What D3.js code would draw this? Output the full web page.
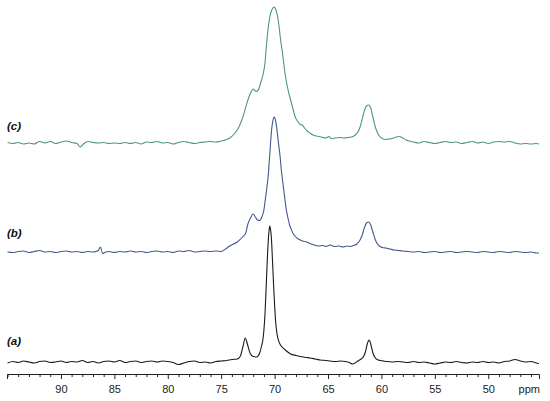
<!DOCTYPE html>
<html><head><meta charset="utf-8">
<script src="https://cdn.jsdelivr.net/npm/d3@7"></script>
<style>body{margin:0;background:#fff}svg{display:block}</style>
</head><body><svg id="chart" width="550" height="401"></svg>
<script>
// ---------- data ----------
const seriesLabels = ["(a)", "(b)", "(c)"];
const majorTicks = [90, 85, 80, 75, 70, 65, 60, 55, 50];
const unitLabel = "ppm";

// [chemical shift (ppm), intensity (a.u.)]
const spectrumA = [
[95.0,-1],[94.5,0.5],[94.0,-0.5],[93.5,1],[93.0,0],[92.5,-1],[92.0,0.5],[91.5,1],[91.0,-0.5],[90.5,0],[90.0,1],[89.5,-0.5],[89.0,0.5],[88.5,0],[88.0,1.5],[87.5,-0.5],[87.0,0.5],[86.5,-1],[86.0,0.5],[85.5,1],[85.0,0],[84.5,1.5],[84.0,-0.5],[83.5,0.5],[83.0,1],[82.5,-0.5],[82.0,0.5],[81.5,1],[81.0,0],[80.5,1],[80.0,0.5],[79.5,-0.5],[79.0,-2.5],[78.5,-1],[78.0,0.5],[77.5,1],[77.0,-0.5],[76.5,0],[76.0,-1],[75.5,0.5],[75.0,1],
[74.5,1.5],[74.0,2.5],[73.5,3],[73.2,6],[72.95,16],[72.75,24],[72.55,18],[72.3,9],[72.0,5.5],[71.7,5],[71.4,9],[71.2,17],[71.1,22],[71.0,32],[70.9,48],[70.8,72],[70.7,98],[70.6,120],[70.5,133],[70.45,136],[70.4,134],[70.3,124],[70.2,102],[70.1,78],[70.0,57],[69.9,40],[69.8,30],[69.7,24],[69.5,18],[69.3,15],[69.0,12],[68.5,8],[68.0,6.5],[67.6,5.5],[67.0,4.5],[66.7,4],[66.2,3],[65.7,2],[65.2,1.5],[64.8,1],[64.3,0.5],[63.8,1],[63.4,0.5],[63.0,-0.5],[62.7,-2],[62.4,-0.5],[62.2,1],[61.9,3],[61.7,5],[61.5,10],[61.3,19],[61.15,22],[61.0,18],[60.8,9],[60.6,4.5],[60.4,2.5],[60.1,1.5],[59.8,1],[59.5,0.5],[59.0,0],[58.5,0.5],[58.0,0],[57.5,-0.5],
[57.0,0.5],[56.5,-0.5],[56.0,0],[55.5,-1],[55.0,-2],[54.5,-1],[54.0,0],[53.5,-0.5],[53.0,0.5],[52.5,-0.5],[52.0,-1],[51.5,0],[51.0,-0.5],[50.5,0.5],[50.0,-0.5],[49.5,0],[49.0,-1],[48.5,0.5],[48.0,1],[47.5,2.5],[47.0,1],[46.5,0],[46.0,0.5],[45.5,-1],[45.25,-1.5]
];

const spectrumB = [
[95.0,0],[94.5,-0.5],[94.0,0.5],[93.5,1],[93.0,-0.5],[92.5,0.5],[92.0,1.5],[91.5,0],[91.0,0.5],[90.5,-0.5],[90.0,0.5],[89.5,1],[89.0,0],[88.5,0.5],[88.0,-0.5],[87.5,0.5],[87.0,0],[86.5,1.5],[86.3,5],[86.1,-1.5],[85.8,0],[85.5,0.5],[85.0,-0.5],[84.5,0.5],[84.0,0],[83.5,1],[83.0,0],[82.5,0.5],[82.0,-0.5],[81.5,0.5],[81.0,1],[80.5,0],[80.0,0.5],[79.5,-0.5],[79.0,1],[78.5,0.5],[78.0,1.5],[77.5,0],[77.0,0.5],[76.5,1],[76.0,0.5],[75.5,1],[75.0,0.5],
[74.6,3],[74.2,6],[73.5,10],[73.0,15],[72.7,19],[72.5,28],[72.3,33],[72.0,38],[71.8,35],[71.6,32],[71.4,31.5],[71.2,35],[71.0,42],[70.9,50],[70.75,62],[70.6,76],[70.45,98],[70.3,120],[70.15,132],[70.05,135],[69.95,133],[69.8,124],[69.65,110],[69.5,97],[69.35,80],[69.2,67],[69.05,54],[68.9,42],[68.75,34],[68.6,27],[68.45,23],[68.3,19],[68.1,16],[67.9,14],[67.6,12],[67.4,11],[67.0,10],[66.7,8.5],[66.3,7],[65.9,6],[65.5,6.5],[65.2,5.5],[64.8,7],[64.4,5.5],[64.0,6],[63.6,5],[63.2,6],[62.9,5.5],[62.6,6.5],[62.3,8],[62.0,12],[61.8,17],[61.6,24],[61.4,29],[61.2,30],[61.0,27],[60.8,20],[60.6,13],[60.4,8.5],[60.2,6],[59.9,4.5],[59.6,4],[59.2,3],[58.8,2],[58.4,1.5],[58.0,1],[57.5,0.5],
[57.0,0],[56.5,0.5],[56.0,-0.5],[55.5,0],[55.0,0.5],[54.5,-0.5],[54.0,0],[53.5,0.5],[53.0,-0.5],[52.5,0],[52.0,0.5],[51.5,0],[51.0,-0.5],[50.5,0.5],[50.0,0],[49.5,-0.5],[49.0,0.5],[48.5,0],[48.0,-0.5],[47.5,0.5],[47.0,0],[46.5,-0.5],[46.0,0],[45.5,-1],[45.25,-1]
];

const spectrumC = [
[95.0,0.5],[94.5,-0.5],[94.0,0.5],[93.5,-1],[93.0,0],[92.5,-1],[92.0,1.5],[91.5,0],[91.0,1.5],[90.5,-0.5],[90.0,1],[89.5,2],[89.0,0.5],[88.5,-0.5],[88.2,-4],[87.9,-1],[87.5,1.5],[87.0,0.5],[86.5,0],[86.0,0.5],[85.5,-0.5],[85.0,0],[84.5,-0.5],[84.0,0.5],[83.5,-0.5],[83.0,0.5],[82.5,-1],[82.0,1],[81.5,0.5],[81.0,1.5],[80.5,0],[80.0,0.5],[79.5,-1],[79.0,0.5],[78.5,1.5],[78.0,0.5],[77.5,-0.5],[77.0,0.5],[76.5,1],[76.0,1.5],[75.5,1],[75.0,2],
[74.6,3],[74.2,5],[73.7,10],[73.3,17],[73.0,25],[72.75,34],[72.5,43],[72.25,50],[72.0,54],[71.8,52],[71.65,51.5],[71.45,55],[71.25,62],[71.05,70],[70.9,80],[70.8,93],[70.7,105],[70.6,115],[70.45,126],[70.3,132],[70.15,135],[70.05,136],[69.9,134],[69.75,128],[69.6,118],[69.45,104],[69.3,93],[69.15,80],[69.0,68],[68.8,56],[68.5,43],[68.3,35],[68.07,26],[67.8,21],[67.6,18.5],[67.4,18],[67.2,15],[66.95,12],[66.7,10],[66.4,8],[66.1,7],[65.8,6.5],[65.5,5.5],[65.2,5],[64.9,6.5],[64.7,4.5],[64.3,5],[63.9,5.5],[63.5,5],[63.1,5.5],[62.8,6],[62.5,7.5],[62.2,11],[62.0,16],[61.8,24],[61.6,32],[61.4,37],[61.2,38],[61.0,35],[60.8,26],[60.6,17],[60.4,11],[60.2,7],[59.9,4.5],[59.6,3.5],[59.3,4],[59.0,4.5],[58.6,6],[58.3,6.5],[58.0,5],[57.7,3],[57.4,2],
[57.0,1],[56.5,0],[56.0,1.5],[55.5,0.5],[55.0,-0.5],[54.5,0.5],[54.0,1.5],[53.5,0.5],[53.0,1],[52.5,-0.5],[52.0,0.5],[51.5,1.5],[51.0,0],[50.5,1],[50.0,-0.5],[49.5,1],[49.0,1.5],[48.5,1],[48.0,1.5],[47.5,0],[47.0,-1],[46.5,-0.5],[46.0,-1],[45.5,-0.5],[45.25,-1]
];

// ---------- layout ----------
const svg = d3.select("#chart");
const x = d3.scaleLinear().domain([95.05, 45.25]).range([7, 539]);
const y = d3.scaleLinear().domain([0, 355]).range([362, 7]);
const axisY = 374;

const traces = [
  {data: spectrumA, offset: 0,   color: "#1a1a1a", labelDy: -17},
  {data: spectrumB, offset: 110, color: "#44598f", labelDy: -15},
  {data: spectrumC, offset: 219, color: "#4f977c", labelDy: -13}
];

traces.forEach((t, i) => {
  const line = d3.line()
    .x(d => x(d[0]))
    .y(d => y(d[1] + t.offset))
    .curve(d3.curveMonotoneX);
  svg.append("path")
    .datum(t.data)
    .attr("d", line)
    .attr("fill", "none")
    .attr("stroke", t.color)
    .attr("stroke-width", 1.1)
    .attr("stroke-linejoin", "round");
  svg.append("text")
    .attr("x", 7)
    .attr("y", y(t.offset) + t.labelDy)
    .attr("font-family", "Liberation Sans, Arial, sans-serif")
    .attr("font-size", 11.5)
    .attr("font-weight", "bold")
    .attr("font-style", "italic")
    .attr("fill", "#111")
    .text(seriesLabels[i]);
});

// minor ticks
const minorTicks = d3.range(46, 96).filter(v => !majorTicks.includes(v));
const minorAxis = d3.axisBottom(x).tickValues(minorTicks).tickSize(3).tickSizeOuter(0).tickFormat("");
svg.append("g").attr("transform", `translate(0,${axisY})`).call(minorAxis)
  .call(g => g.select(".domain").remove())
  .call(g => g.selectAll("line").attr("stroke", "#222"));

const majorAxis = d3.axisBottom(x).tickValues(majorTicks).tickSize(5).tickSizeOuter(5).tickPadding(6).tickFormat(d3.format("d"));
svg.append("g").attr("transform", `translate(0,${axisY})`).call(majorAxis)
  .call(g => g.select(".domain").attr("stroke", "#222"))
  .call(g => g.selectAll("line").attr("stroke", "#222"))
  .call(g => g.selectAll("text").attr("font-family", "Liberation Sans, Arial, sans-serif").attr("font-size", 11).attr("fill", "#222"));

svg.append("text")
  .attr("x", x(45.25) + 1)
  .attr("y", 393)
  .attr("text-anchor", "end")
  .attr("font-family", "Liberation Sans, Arial, sans-serif")
  .attr("font-size", 11)
  .attr("fill", "#222")
  .text(unitLabel);
</script>
</body></html>
